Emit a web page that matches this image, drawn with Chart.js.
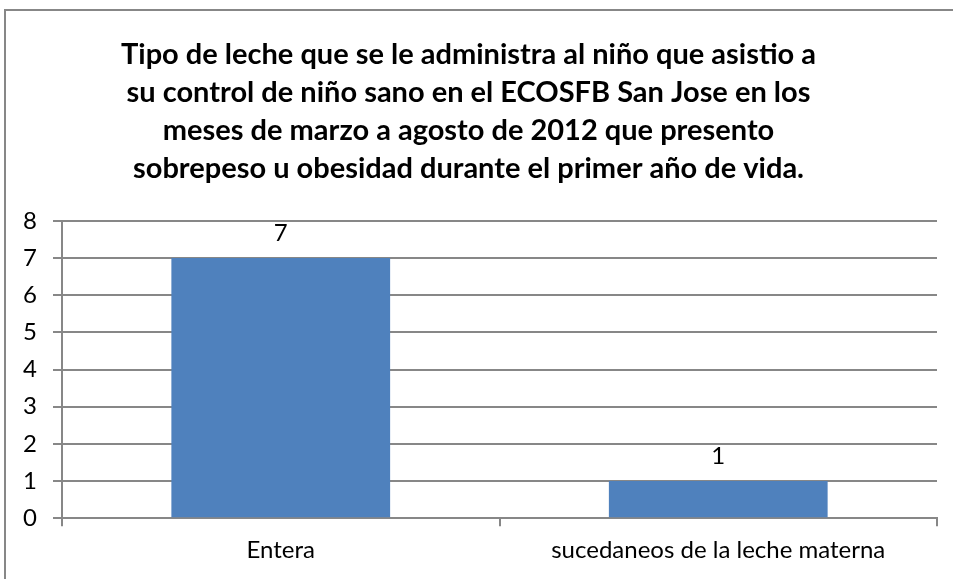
<!DOCTYPE html>
<html>
<head>
<meta charset="utf-8">
<script src="https://cdn.jsdelivr.net/npm/chart.js"></script>
<style>
  html, body { margin: 0; padding: 0; background: #fff; overflow: hidden; }
  #wrap { position: relative; width: 953px; height: 579px; }
  #frame {
    position: absolute; left: 4px; top: 9px; width: 1000px; height: 700px;
    border-left: 2px solid #878787; border-top: 2px solid #878787;
    pointer-events: none;
  }
  canvas { position: absolute; left: 0; top: 0; }
</style>
</head>
<body>
<div id="wrap">
  <canvas id="chart" width="953" height="579"></canvas>
  <div id="frame"></div>
</div>
<script>
// tipos de leche y número de niños
const categorias = ['Entera', 'sucedaneos de la leche materna'];
const ninos = [7, 1];
const marcasY = [0, 1, 2, 3, 4, 5, 6, 7, 8];
const titulo = [
  'Tipo de leche que se le administra al niño que asistio a',
  'su control de niño sano en el ECOSFB San Jose en los',
  'meses de marzo a agosto de 2012 que presento',
  'sobrepeso u obesidad durante el primer año de vida.'
];

const FONT = 'Lato, Calibri, sans-serif';
const GRIS = '#878787';

// escribe el valor encima de cada barra
const etiquetas = {
  id: 'etiquetas',
  afterDatasetsDraw(chart) {
    const ctx = chart.ctx;
    const meta = chart.getDatasetMeta(0);
    ctx.save();
    ctx.font = '24px ' + FONT;
    ctx.fillStyle = '#000';
    ctx.textAlign = 'center';
    ctx.textBaseline = 'middle';
    meta.data.forEach((bar, i) => {
      ctx.fillText(String(ninos[i]), bar.x, bar.y - 25);
    });
    ctx.restore();
  }
};

new Chart(document.getElementById('chart').getContext('2d'), {
  type: 'bar',
  data: {
    labels: categorias,
    datasets: [{
      data: ninos,
      backgroundColor: '#4F81BD',
      borderWidth: 0,
      barPercentage: 0.5,
      categoryPercentage: 1
    }]
  },
  options: {
    responsive: false,
    animation: false,
    layout: { padding: { left: 0, right: 16, top: 0, bottom: 4 } },
    plugins: {
      legend: { display: false },
      tooltip: { enabled: false },
      title: {
        display: true,
        text: titulo,
        color: '#000',
        font: { family: FONT, size: 29, weight: 'bold', lineHeight: 1.31 },
        padding: { top: 36, bottom: 33 }
      }
    },
    scales: {
      x: {
        grid: { offset: true, drawOnChartArea: false, drawTicks: true, tickLength: 8, color: GRIS, lineWidth: 2 },
        border: { color: GRIS, width: 2 },
        ticks: { color: '#000', font: { family: FONT, size: 24 }, padding: 10 }
      },
      y: {
        min: 0,
        max: 8,
        afterBuildTicks(scale) {
          scale.ticks = marcasY.map(v => ({ value: v }));
        },
        afterFit(scale) { scale.width = 62; },
        grid: { color: GRIS, lineWidth: 2, tickLength: 9 },
        border: { color: GRIS, width: 2 },
        ticks: { color: '#000', font: { family: FONT, size: 24 }, padding: 16 }
      }
    }
  },
  plugins: [etiquetas]
});
</script>
</body>
</html>
